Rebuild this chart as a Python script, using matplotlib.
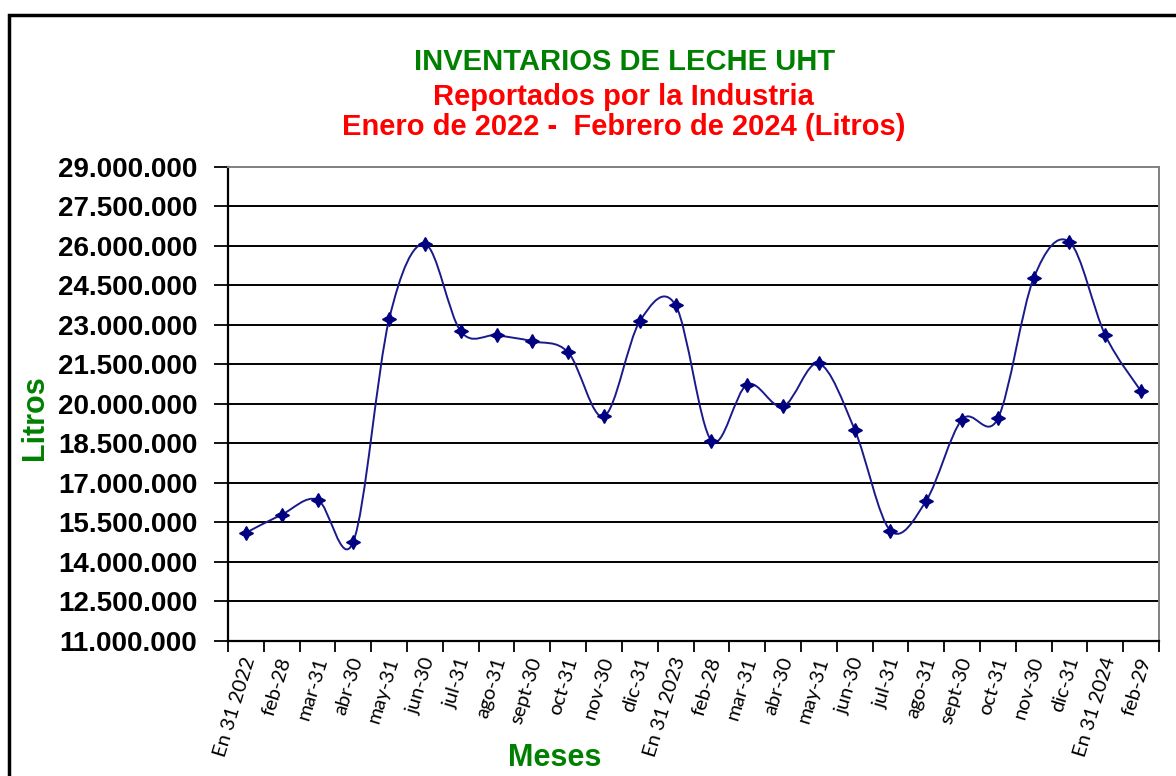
import numpy as np
import matplotlib.pyplot as plt
from matplotlib.path import Path
from matplotlib.patches import PathPatch, Rectangle
from matplotlib.ticker import FuncFormatter, FixedLocator

plt.rcParams['font.family'] = ['Liberation Sans', 'DejaVu Sans']

meses = ['En 31 2022', 'feb-28', 'mar-31', 'abr-30', 'may-31', 'jun-30', 'jul-31',
         'ago-31', 'sept-30', 'oct-31', 'nov-30', 'dic-31', 'En 31 2023', 'feb-28',
         'mar-31', 'abr-30', 'may-31', 'jun-30', 'jul-31', 'ago-31', 'sept-30',
         'oct-31', 'nov-30', 'dic-31', 'En 31 2024', 'feb-29']
litros = [15110000, 15800000, 16370000, 14770000, 23220000, 26070000, 22760000,
          22610000, 22380000, 21960000, 19530000, 23140000, 23750000, 18610000,
          20740000, 19910000, 21540000, 19030000, 15190000, 16330000, 19410000,
          19450000, 24780000, 26150000, 22610000, 20480000]

green = '#008000'
red = '#ff0000'
navy = '#000080'

fig = plt.figure(figsize=(11.76, 7.76), dpi=100)
ax = fig.add_axes([228/1176, 1-641/776, (1159-228)/1176, (641-167)/776])

x = np.arange(len(litros), dtype=float)
y = np.array(litros, dtype=float)

# smoothed line like Excel (Catmull-Rom as bezier)
verts = [(x[0], y[0])]
codes = [Path.MOVETO]
n = len(x)
for i in range(n - 1):
    p0 = np.array([x[max(i-1, 0)], y[max(i-1, 0)]])
    p1 = np.array([x[i], y[i]])
    p2 = np.array([x[i+1], y[i+1]])
    p3 = np.array([x[min(i+2, n-1)], y[min(i+2, n-1)]])
    c1 = p1 + (p2 - p0) / 6
    c2 = p2 - (p3 - p1) / 6
    verts += [tuple(c1), tuple(c2), tuple(p2)]
    codes += [Path.CURVE4] * 3
ax.add_patch(PathPatch(Path(verts, codes), facecolor='none', edgecolor='#1a1a8c', lw=1.4, zorder=3))
ax.plot(x, y, linestyle='none', marker=(4, 1, 0), markersize=10, color=navy, zorder=4)

ax.set_xlim(-0.5, n - 0.5)
ax.set_ylim(11000000, 29000000)
yt = np.arange(11000000, 29000001, 1500000)
ax.set_yticks(yt)
ax.yaxis.set_major_formatter(FuncFormatter(lambda v, p: f'{int(v):,}'.replace(',', '.')))
for v in yt[1:-1]:
    ax.axhline(v, color='black', lw=1.4, zorder=1)

ax.set_xticks(x + 0.12)
ax.set_xticklabels(meses, rotation=73, ha='right', va='center', fontsize=14.5,
                   family=['Lato', 'DejaVu Sans'], rotation_mode='anchor')
ax.xaxis.set_minor_locator(FixedLocator(np.arange(-0.5, n, 1.0)))
ax.tick_params(axis='x', which='major', length=0, pad=12)
ax.tick_params(axis='x', which='minor', length=8, width=1.3, color='black')
ax.tick_params(axis='y', length=10, width=1.3, pad=12, labelsize=20)
for lab in ax.get_yticklabels():
    lab.set_fontweight('bold')

for s in ['left', 'bottom']:
    ax.spines[s].set_color('black')
    ax.spines[s].set_linewidth(1.6)
for s in ['top', 'right']:
    ax.spines[s].set_color('#808080')
    ax.spines[s].set_linewidth(1.4)

fig.text(625/1176, 1-62/776, 'INVENTARIOS DE LECHE UHT', color=green, fontsize=21,
         fontweight='bold', ha='center', va='center')
fig.text(623/1176, 1-97/776, 'Reportados por la Industria', color=red, fontsize=21,
         fontweight='bold', ha='center', va='center')
fig.text(624/1176, 1-127/776, 'Enero de 2022 -  Febrero de 2024 (Litros)', color=red,
         fontsize=21, fontweight='bold', ha='center', va='center')
fig.text(35/1176, 1-418/776, 'Litros', color=green, fontsize=22, fontweight='bold',
         rotation=90, ha='center', va='center')
fig.text(555/1176, 1-758/776, 'Meses', color=green, fontsize=22, fontweight='bold',
         ha='center', va='center')

fig.patches.append(Rectangle((9/1176, -0.1), 1.2, 1-15/776+0.1, transform=fig.transFigure,
                             fill=False, edgecolor='black', lw=2.5))

fig.savefig('out.png', dpi=100)
